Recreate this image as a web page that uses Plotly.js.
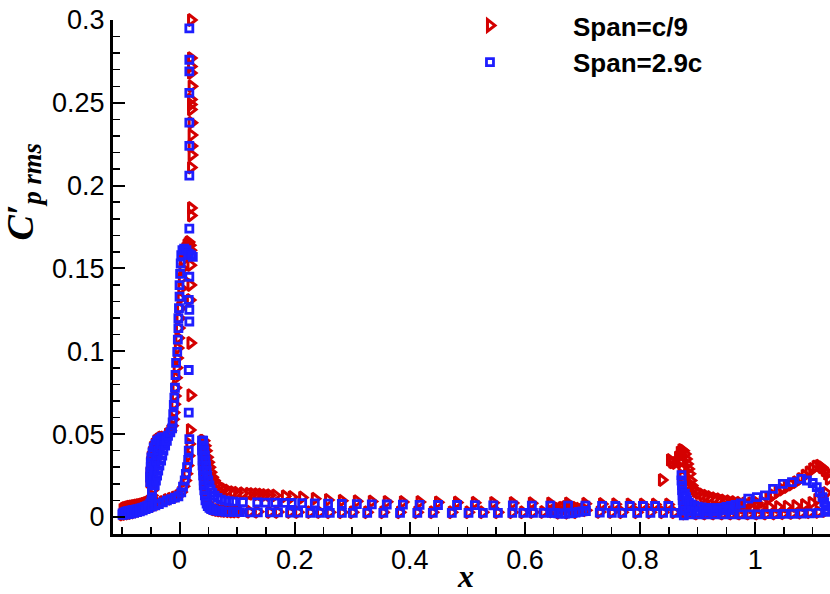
<!DOCTYPE html>
<html>
<head>
<meta charset="utf-8">
<script src="https://cdn.plot.ly/plotly-3.0.1.min.js"></script>
<style>html,body{margin:0;padding:0;background:#fff;}#chart{width:830px;height:594px;}</style>
</head>
<body>
<div id="chart"></div>
<script>
// Series names
const seriesNames = ["Span=c/9", "Span=2.9c"];

// ---- Span=c/9 (red) : [x, Cp'rms] ----
const redSlat = [
[-0.099,0.0045],[-0.096,0.0052],[-0.093,0.0056],[-0.090,0.0059],[-0.087,0.0061],[-0.084,0.0063],[-0.081,0.0065],[-0.078,0.0067],[-0.075,0.0069],[-0.072,0.0071],[-0.069,0.0073],[-0.066,0.0075],[-0.063,0.0078],[-0.060,0.0081],[-0.057,0.0085],[-0.054,0.0090],[-0.051,0.0098],[-0.049,0.0110],[-0.048,0.0130],[-0.048,0.0160],
[-0.099,0.0015],[-0.094,0.0018],[-0.089,0.0020],[-0.084,0.0023],[-0.079,0.0027],[-0.074,0.0032],[-0.069,0.0037],[-0.064,0.0043],[-0.059,0.0050],[-0.054,0.0057],[-0.048,0.0065],[-0.042,0.0072],[-0.036,0.0080],[-0.029,0.0090],[-0.022,0.0102],[-0.015,0.0110],[-0.008,0.0118],[-0.002,0.0128],[0.003,0.0150],[0.007,0.0185],[0.010,0.0220],[0.012,0.0260],[0.014,0.0310],[0.016,0.0370],[0.017,0.0440],[0.018,0.0525]
];
const redCove = [
[-0.052,0.021],[-0.052,0.024],[-0.052,0.027],[-0.051,0.030],[-0.051,0.033],[-0.050,0.036],[-0.048,0.039],[-0.046,0.042],[-0.043,0.044],[-0.040,0.046],[-0.036,0.047],[-0.032,0.048],[-0.028,0.048],
[-0.048,0.020],[-0.047,0.023],[-0.046,0.026],[-0.045,0.029],[-0.043,0.032],[-0.041,0.035],[-0.039,0.038],[-0.036,0.041],[-0.033,0.043],[-0.029,0.045],[-0.025,0.047]
];
const redRise = [
[-0.020,0.050],[-0.016,0.052],[-0.013,0.055],[-0.011,0.059],[-0.010,0.063],[-0.009,0.068],[-0.008,0.073],[-0.007,0.078],[-0.006,0.084],[-0.005,0.090],[-0.004,0.096],[-0.003,0.102],[-0.002,0.108],[-0.001,0.114],[0.000,0.120],[0.001,0.126],[0.002,0.132],[0.003,0.138],[0.004,0.144],[0.005,0.150],[0.006,0.155],[0.008,0.159],[0.010,0.162],[0.012,0.164],[0.014,0.165],[0.016,0.166],[0.018,0.164],[0.019,0.161]
];
const redEdge = [
[0.019,0.0735],[0.019,0.105],[0.018,0.131],[0.019,0.140],[0.019,0.152],[0.020,0.182],[0.020,0.1865],[0.020,0.211],[0.021,0.2185],[0.021,0.224],[0.021,0.2305],[0.021,0.238],[0.020,0.246],[0.020,0.249],[0.020,0.252],[0.021,0.260],[0.020,0.268],[0.020,0.272],[0.020,0.277],[0.020,0.300]
];
const redMainLower = [
[0.040,0.046],[0.040,0.043],[0.040,0.040],[0.041,0.037],[0.041,0.034],[0.041,0.031],[0.042,0.028],[0.042,0.025],[0.043,0.022],[0.043,0.019],[0.044,0.016],[0.045,0.013],[0.046,0.0105],[0.048,0.0085],[0.050,0.0070],[0.053,0.0060],[0.056,0.0052],[0.060,0.0046],[0.065,0.0042],[0.070,0.0039],[0.075,0.0037],[0.080,0.0035],[0.086,0.0034],[0.092,0.0033],[0.098,0.0032],[0.105,0.0032],[0.122,0.0031],[0.136,0.0031],[0.157,0.0030],[0.171,0.0030],[0.192,0.0030],[0.206,0.0029],[0.227,0.0029],[0.244,0.0029],[0.261,0.0028],[0.282,0.0028],[0.301,0.0028],[0.326,0.0028],[0.354,0.0028],[0.383,0.0028],[0.413,0.0028],[0.440,0.0028],[0.473,0.0028],[0.502,0.0028],[0.527,0.0028],[0.553,0.0028],[0.578,0.0028],[0.597,0.0028],[0.614,0.0029],[0.632,0.0030],[0.647,0.0033],[0.652,0.0040],[0.658,0.0048],[0.664,0.0055],[0.670,0.0060],[0.676,0.0062],[0.682,0.0060],[0.688,0.0056],[0.694,0.0050],[0.700,0.0045],[0.706,0.0040],[0.660,0.0025],[0.675,0.0025],[0.690,0.0028],[0.730,0.0030],[0.751,0.0029],[0.769,0.0028],[0.795,0.0028],[0.818,0.0028],[0.840,0.0028],[0.860,0.0028]
];
const redMainUpper = [
[0.042,0.046],[0.044,0.043],[0.046,0.040],[0.048,0.036],[0.050,0.033],[0.052,0.030],[0.054,0.027],[0.057,0.024],[0.060,0.022],[0.064,0.020],[0.068,0.0185],[0.073,0.0175],[0.078,0.0168],[0.084,0.0160],[0.093,0.0150],[0.100,0.0146],[0.110,0.0143],[0.120,0.0140],[0.127,0.0139],[0.135,0.0137],[0.142,0.0135],[0.149,0.0133],[0.157,0.0131],[0.166,0.0130],[0.183,0.0125],[0.195,0.0120],[0.213,0.0117],[0.235,0.0110],[0.258,0.0103],[0.282,0.0098],[0.308,0.0095],[0.334,0.0093],[0.360,0.0091],[0.388,0.0090],[0.417,0.0090],[0.449,0.0088],[0.482,0.0087],[0.513,0.0086],[0.545,0.0085],[0.579,0.0084],[0.612,0.0083],[0.644,0.0082],[0.675,0.0082],[0.705,0.0080],[0.734,0.0078],[0.757,0.0077],[0.782,0.0076],[0.805,0.0075],[0.826,0.0075],[0.849,0.0075]
];
const redFlap = [
[0.838,0.0223],[0.852,0.0344],[0.856,0.0330],[0.861,0.0326],[0.866,0.0360],[0.869,0.0390],[0.872,0.0405],[0.875,0.0400],[0.878,0.0380],[0.880,0.0350],[0.882,0.0320],[0.884,0.0290],[0.886,0.0260],[0.870,0.0330],[0.872,0.0290],[0.873,0.0250],[0.874,0.0210],[0.874,0.0170],[0.875,0.0130],[0.876,0.0090],[0.877,0.0050],[0.878,0.0020],
[0.888,0.0220],[0.890,0.0190],[0.893,0.0170],[0.897,0.0155],[0.902,0.0145],[0.908,0.0135],[0.915,0.0128],[0.922,0.0120],[0.930,0.0113],[0.938,0.0107],[0.946,0.0100],[0.955,0.0095],[0.964,0.0090],[0.973,0.0086],[0.983,0.0083],[0.993,0.0083],[1.003,0.0085],[1.013,0.0090],[1.023,0.0110],[1.031,0.0130],[1.039,0.0150],[1.047,0.0165],[1.055,0.0180],[1.063,0.0195],[1.071,0.0210],[1.079,0.0230],[1.086,0.0250],[1.093,0.0270],[1.099,0.0290],[1.105,0.0305],[1.111,0.0310],[1.116,0.0298],[1.121,0.0280],[1.125,0.0260],[1.128,0.0230],
[0.890,0.0070],[0.900,0.0065],[0.910,0.0060],[0.920,0.0058],[0.935,0.0056],[0.950,0.0055],[0.965,0.0055],[0.980,0.0055],[0.995,0.0056],[1.010,0.0057],[1.025,0.0058],[1.040,0.0060],[1.055,0.0062],[1.070,0.0066],[1.085,0.0072],[1.098,0.0085],[1.108,0.0105],[1.116,0.0125],[1.123,0.0145],
[0.885,0.0025],[0.900,0.0020],[0.915,0.0020],[0.930,0.0020],[0.945,0.0020],[0.960,0.0020],[0.975,0.0020],[0.990,0.0020],[1.005,0.0020],[1.020,0.0020],[1.035,0.0021],[1.050,0.0022],[1.065,0.0023],[1.080,0.0025],[1.095,0.0028],[1.110,0.0030],[1.122,0.0035],
[1.131,0.0540]
];

// ---- Span=2.9c (blue) : [x, Cp'rms] ----
const blueSlat = [
[-0.099,0.0022],[-0.096,0.0028],[-0.093,0.0032],[-0.090,0.0035],[-0.087,0.0037],[-0.084,0.0039],[-0.081,0.0041],[-0.078,0.0043],[-0.075,0.0045],[-0.072,0.0047],[-0.069,0.0050],[-0.066,0.0053],[-0.063,0.0056],[-0.060,0.0060],[-0.057,0.0065],[-0.054,0.0070],[-0.051,0.0080],[-0.049,0.0095],[-0.048,0.0120],[-0.048,0.0150],
[-0.099,0.0012],[-0.094,0.0014],[-0.089,0.0017],[-0.084,0.0020],[-0.079,0.0024],[-0.074,0.0029],[-0.069,0.0034],[-0.064,0.0040],[-0.059,0.0047],[-0.054,0.0054],[-0.048,0.0062],[-0.042,0.0070],[-0.036,0.0078],[-0.029,0.0088],[-0.022,0.0100],[-0.015,0.0108],[-0.008,0.0116],[-0.002,0.0125],[0.003,0.0148],[0.006,0.0183],[0.009,0.0220],[0.011,0.0260],[0.013,0.0300],[0.015,0.0345],[0.016,0.0400],[0.017,0.0470]
];
const blueCove = [
[-0.051,0.021],[-0.051,0.024],[-0.051,0.027],[-0.050,0.030],[-0.050,0.033],[-0.049,0.036],[-0.047,0.039],[-0.045,0.042],[-0.042,0.044],[-0.039,0.046],[-0.035,0.047],[-0.031,0.048],[-0.027,0.048],
[-0.047,0.019],[-0.046,0.022],[-0.045,0.025],[-0.044,0.028],[-0.043,0.031],[-0.041,0.034],[-0.039,0.037],[-0.037,0.040],[-0.034,0.042],[-0.031,0.044],[-0.027,0.046],[-0.024,0.047],
[-0.043,0.019],[-0.041,0.022],[-0.039,0.025],[-0.037,0.028],[-0.035,0.031],[-0.032,0.034],[-0.030,0.037],[-0.028,0.040],[-0.025,0.043],[-0.022,0.046]
];
const blueRise = [
[-0.020,0.049],[-0.016,0.051],[-0.013,0.0535],[-0.012,0.057],[-0.011,0.062],[-0.010,0.0676],[-0.009,0.072],[-0.008,0.078],[-0.007,0.0857],[-0.006,0.093],[-0.004,0.0996],[-0.003,0.107],[-0.002,0.114],[-0.002,0.120],[-0.001,0.126],[0.000,0.133],[0.000,0.140],[0.001,0.1467],[0.002,0.153],[0.003,0.158],[0.005,0.161],[0.008,0.162],[0.012,0.161],[0.016,0.159],[0.020,0.158],[0.023,0.157]
];
const blueEdge = [
[0.016,0.063],[0.016,0.0887],[0.017,0.118],[0.017,0.125],[0.016,0.131],[0.017,0.145],[0.017,0.174],[0.017,0.206],[0.017,0.224],[0.017,0.238],[0.017,0.256],[0.017,0.269],[0.017,0.276],[0.017,0.295]
];
const blueMainLower = [
[0.039,0.046],[0.039,0.043],[0.039,0.040],[0.040,0.037],[0.040,0.034],[0.040,0.031],[0.041,0.028],[0.041,0.025],[0.042,0.022],[0.042,0.019],[0.043,0.016],[0.044,0.013],[0.045,0.0100],[0.047,0.0080],[0.049,0.0065],[0.052,0.0055],[0.055,0.0048],[0.059,0.0042],[0.064,0.0038],[0.069,0.0035],[0.074,0.0033],[0.080,0.0031],[0.086,0.0030],[0.093,0.0030],[0.100,0.0029],[0.105,0.0029],[0.122,0.0028],[0.136,0.0028],[0.157,0.0027],[0.171,0.0027],[0.192,0.0026],[0.206,0.0026],[0.227,0.0025],[0.244,0.0025],[0.261,0.0025],[0.282,0.0024],[0.301,0.0024],[0.326,0.0024],[0.354,0.0024],[0.383,0.0024],[0.413,0.0024],[0.440,0.0024],[0.473,0.0024],[0.502,0.0024],[0.527,0.0024],[0.553,0.0024],[0.578,0.0024],[0.597,0.0024],[0.614,0.0024],[0.632,0.0025],[0.647,0.0025],[0.652,0.0025],[0.658,0.0022],[0.664,0.0020],[0.670,0.0020],[0.676,0.0021],[0.682,0.0023],[0.688,0.0026],[0.694,0.0030],[0.700,0.0034],[0.706,0.0036],[0.730,0.0026],[0.751,0.0024],[0.769,0.0024],[0.795,0.0024],[0.818,0.0024],[0.840,0.0024],[0.860,0.0024]
];
const blueMainUpper = [
[0.041,0.046],[0.042,0.043],[0.043,0.040],[0.044,0.037],[0.045,0.034],[0.046,0.031],[0.047,0.028],[0.048,0.025],[0.050,0.022],[0.052,0.019],[0.054,0.0165],[0.057,0.0145],[0.061,0.0128],[0.066,0.0115],[0.072,0.0105],[0.079,0.0098],[0.086,0.0094],[0.093,0.0092],[0.110,0.0090],[0.135,0.0088],[0.149,0.0087],[0.166,0.0086],[0.183,0.0085],[0.195,0.0084],[0.213,0.0083],[0.235,0.0082],[0.258,0.0080],[0.282,0.0078],[0.308,0.0077],[0.334,0.0076],[0.360,0.0075],[0.388,0.0074],[0.417,0.0073],[0.449,0.0072],[0.482,0.0072],[0.513,0.0071],[0.545,0.0070],[0.579,0.0069],[0.612,0.0068],[0.644,0.0068],[0.675,0.0068],[0.705,0.0068],[0.734,0.0067],[0.757,0.0066],[0.782,0.0066],[0.805,0.0066],[0.826,0.0066],[0.849,0.0066]
];
const blueFlap = [
[0.872,0.0253],[0.872,0.0220],[0.873,0.0190],[0.873,0.0160],[0.874,0.0130],[0.874,0.0100],[0.875,0.0070],[0.875,0.0040],[0.876,0.0010],
[0.878,0.0140],[0.880,0.0120],[0.882,0.0100],[0.885,0.0085],[0.889,0.0075],[0.894,0.0068],[0.900,0.0062],[0.907,0.0058],[0.915,0.0055],[0.923,0.0053],[0.932,0.0053],[0.941,0.0055],[0.950,0.0060],[0.958,0.0066],[0.966,0.0073],[0.975,0.0082],[0.988,0.0110],[1.003,0.0120],[1.017,0.0130],[1.031,0.0170],[1.048,0.0200],[1.064,0.0210],[1.080,0.0230],[1.090,0.0220],[1.100,0.0205],[1.107,0.0180],[1.112,0.0150],[1.117,0.0120],[1.120,0.0090],[1.123,0.0065],[1.126,0.0045],
[0.878,0.0040],[0.884,0.0038],[0.890,0.0036],[0.896,0.0035],[0.903,0.0034],[0.910,0.0034],[0.918,0.0035],[0.926,0.0036],[0.935,0.0038],[0.945,0.0040],[0.955,0.0042],
[0.885,0.0015],[0.900,0.0015],[0.915,0.0015],[0.930,0.0015],[0.945,0.0015],[0.960,0.0015],[0.975,0.0016],[0.990,0.0016],[1.005,0.0016],[1.020,0.0017],[1.035,0.0017],[1.050,0.0018],[1.065,0.0019],[1.080,0.0020],[1.095,0.0022],[1.110,0.0025],[1.122,0.0030],
[1.131,0.0435]
];

const redPts = [].concat(redSlat, redCove, redRise, redEdge, redMainLower, redMainUpper, redFlap);
const bluePts = [].concat(blueSlat, blueCove, blueRise, blueEdge, blueMainLower, blueMainUpper, blueFlap);

const RED = '#d40000', BLUE = '#1e1eff';

const traces = [
  {
    type: 'scatter', mode: 'markers', name: seriesNames[0], cliponaxis: false,
    x: redPts.map(p => p[0]), y: redPts.map(p => p[1]),
    marker: {symbol: 'triangle-right-open', size: 10, color: RED, line: {color: RED, width: 3}}
  },
  {
    type: 'scatter', mode: 'markers', name: seriesNames[1], cliponaxis: false,
    x: bluePts.map(p => p[0]), y: bluePts.map(p => p[1]),
    marker: {symbol: 'square-open', size: 7, color: BLUE, line: {color: BLUE, width: 2.8}}
  }
];

const tickFont = {family: 'Liberation Sans, Arial, sans-serif', size: 27, color: '#000'};

const layout = {
  width: 830, height: 594,
  margin: {l: 113, r: 0, t: 20, b: 60, pad: 0},
  paper_bgcolor: '#fff', plot_bgcolor: '#fff',
  showlegend: true,
  legend: {
    x: 0.41, xanchor: 'left', y: 1.035, yanchor: 'top',
    itemwidth: 156, bgcolor: 'rgba(0,0,0,0)', borderwidth: 0,
    font: {family: 'Liberation Sans, Arial, sans-serif', size: 26, color: '#000', weight: 'bold'},
    tracegroupgap: 0
  },
  xaxis: {
    range: [-0.1156, 1.13], showgrid: false, zeroline: false,
    showline: true, linecolor: '#000', linewidth: 3,
    ticks: 'inside', ticklen: 12, tickwidth: 2, tickcolor: '#000',
    tick0: 0, dtick: 0.2, tickfont: tickFont,
    minor: {ticks: 'inside', ticklen: 7, tickwidth: 1.5, tickcolor: '#000', dtick: 0.05, tick0: 0, showgrid: false}
  },
  yaxis: {
    range: [-0.0103, 0.3], showgrid: false, zeroline: false,
    showline: true, linecolor: '#000', linewidth: 3,
    ticks: 'inside', ticklen: 12, tickwidth: 2, tickcolor: '#000',
    tick0: 0, dtick: 0.05, tickfont: tickFont,
    minor: {ticks: 'inside', ticklen: 7, tickwidth: 1.5, tickcolor: '#000', dtick: 0.01, tick0: 0, showgrid: false}
  },
  annotations: [
    {
      xref: 'paper', yref: 'paper', x: -0.125, y: 0.665, xanchor: 'center', yanchor: 'middle',
      textangle: -90, showarrow: false,
      text: '<b><i>C′<sub>p rms</sub></i></b>',
      font: {family: 'Liberation Serif, Times New Roman, serif', size: 38, color: '#000'}
    },
    {
      xref: 'paper', yref: 'paper', x: 0.4923, y: -0.081, xanchor: 'center', yanchor: 'middle',
      showarrow: false, text: '<b><i>x</i></b>',
      font: {family: 'Liberation Serif, Times New Roman, serif', size: 32, color: '#000'}
    }
  ]
};

Plotly.newPlot('chart', traces, layout, {displayModeBar: false, staticPlot: true});
</script>
</body>
</html>
